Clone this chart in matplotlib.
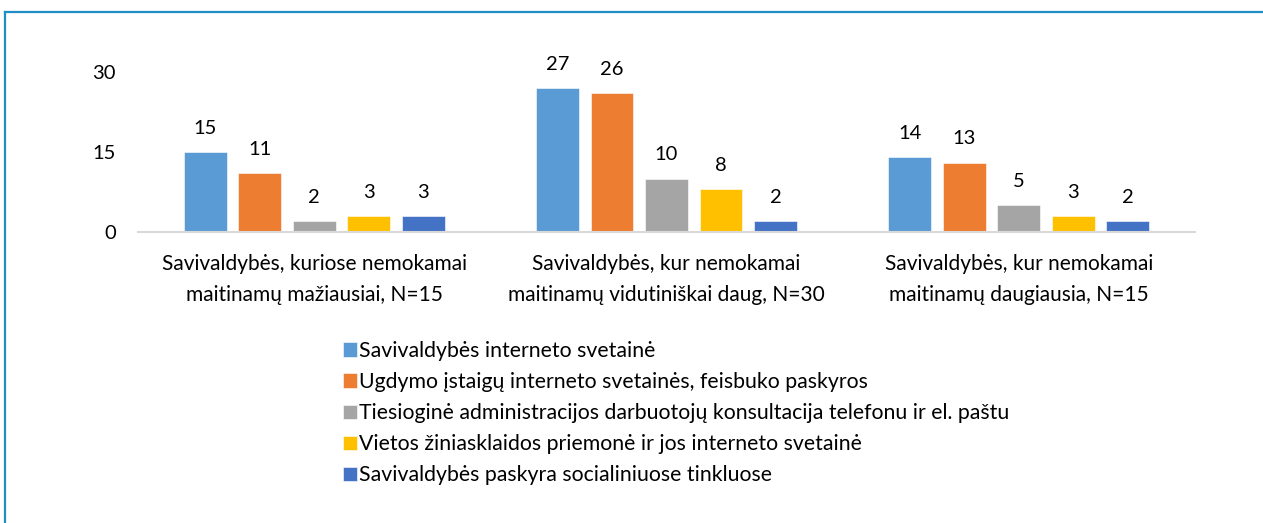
import matplotlib
matplotlib.use("Agg")
import matplotlib.pyplot as plt
import numpy as np
from matplotlib.lines import Line2D

plt.rcParams['font.family'] = ['Lato', 'DejaVu Sans']

categories = ["Savivaldybės, kuriose nemokamai\nmaitinamų mažiausiai, N=15",
              "Savivaldybės, kur nemokamai\nmaitinamų vidutiniškai daug, N=30",
              "Savivaldybės, kur nemokamai\nmaitinamų daugiausia, N=15"]
series_names = ["Savivaldybės interneto svetainė",
                "Ugdymo įstaigų interneto svetainės, feisbuko paskyros",
                "Tiesioginė administracijos darbuotojų konsultacija telefonu ir el. paštu",
                "Vietos žiniasklaidos priemonė ir jos interneto svetainė",
                "Savivaldybės paskyra socialiniuose tinkluose"]
values = [[15, 27, 14],
          [11, 26, 13],
          [2, 10, 5],
          [3, 8, 3],
          [3, 2, 2]]
colors = ["#5B9BD5", "#ED7D31", "#A5A5A5", "#FFC000", "#4472C4"]
yticks = [0, 15, 30]

W, H = 1263, 523
fig = plt.figure(figsize=(W/100, H/100), dpi=100)
ax = fig.add_axes([138/W, 1-232/H, (1195-138)/W, (232-72)/H])

x = np.arange(len(categories))
pitch = 0.1547
bw = 0.122
fs = 14.5
for i, (name, vals, c) in enumerate(zip(series_names, values, colors)):
    pos = x + (i - 2) * pitch
    bars = ax.bar(pos, vals, width=bw, color=c, label=name, edgecolor='white', linewidth=0.4)
    for b, v in zip(bars, vals):
        ax.annotate(str(v), (b.get_x() + b.get_width()/2, v), xytext=(0, 11),
                    textcoords='offset points', ha='center', va='bottom',
                    fontsize=fs, color='#000000', annotation_clip=False)

ax.set_xlim(-0.5, 2.5)
ax.set_ylim(0, 30)
ax.set_yticks(yticks)
ax.set_yticklabels([str(t) for t in yticks], fontsize=fs)
ax.set_xticks(x)
ax.set_xticklabels(categories, fontsize=15, linespacing=1.65)
ax.tick_params(axis='y', length=0, pad=16)
ax.tick_params(axis='x', length=0, pad=16)
for s in ['top', 'right', 'left']:
    ax.spines[s].set_visible(False)
ax.spines['bottom'].set_color('#D9D9D9')
ax.spines['bottom'].set_linewidth(1.5)

handles, labels = ax.get_legend_handles_labels()
leg = fig.legend(handles, labels, loc='upper left', bbox_to_anchor=(343/W, 1-341/H),
                 frameon=False, fontsize=15.3, handlelength=0.65, handleheight=0.65,
                 handletextpad=0.1, labelspacing=0.52, borderaxespad=0, borderpad=0)

# figure border (top and left)
fig.add_artist(Line2D([5/W, 1], [1-12/H, 1-12/H], transform=fig.transFigure, color='#1F8FC3', lw=1.6))
fig.add_artist(Line2D([5/W, 5/W], [0, 1-12/H], transform=fig.transFigure, color='#1F8FC3', lw=1.6))

fig.savefig("out.png", dpi=100)
